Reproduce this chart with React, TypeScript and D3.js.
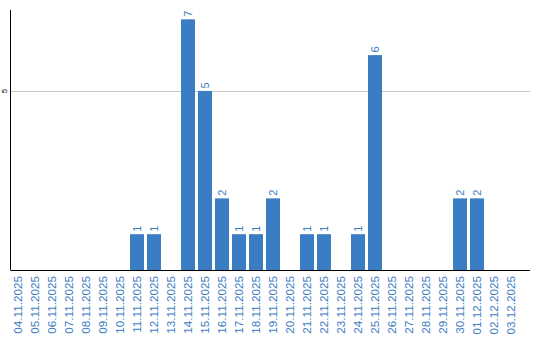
import React from "react";
import * as d3 from "d3";

const dates = [
  "04.11.2025", "05.11.2025", "06.11.2025", "07.11.2025", "08.11.2025",
  "09.11.2025", "10.11.2025", "11.11.2025", "12.11.2025", "13.11.2025",
  "14.11.2025", "15.11.2025", "16.11.2025", "17.11.2025", "18.11.2025",
  "19.11.2025", "20.11.2025", "21.11.2025", "22.11.2025", "23.11.2025",
  "24.11.2025", "25.11.2025", "26.11.2025", "27.11.2025", "28.11.2025",
  "29.11.2025", "30.11.2025", "01.12.2025", "02.12.2025", "03.12.2025",
];
const counts = [0, 0, 0, 0, 0, 0, 0, 1, 1, 0, 7, 5, 2, 1, 1, 2, 0, 1, 1, 0, 1, 6, 0, 0, 0, 0, 2, 2, 0, 0];
const yTicks = [5];

const W = 540;
const H = 340;
const left = 10.5;
const right = 530;
const top = 10;
const bottom = 270;
const blue = "#3b7dc2";
const font = "'Liberation Sans', Arial, sans-serif";

export default function App() {
  const x = d3.scaleBand<string>().domain(dates).range([11, 518]).paddingInner(3 / 17).paddingOuter(0);
  const y = d3.scaleLinear().domain([0, 7.26]).range([bottom, top]);

  return (
    <svg width={W} height={H} style={{ position: "absolute", left: 0, top: 0, display: "block" }}>
      <rect width={W} height={H} fill="#fff" />
      {yTicks.map((t) => (
        <g key={t}>
          <line x1={left} x2={right} y1={Math.round(y(t)) + 0.5} y2={Math.round(y(t)) + 0.5} stroke="#c8c8c8" strokeWidth={1} />
          <text
            transform={`translate(4.5,${y(t)}) rotate(-90)`}
            textAnchor="middle"
            dy="0.35em"
            fontSize={8}
            fontFamily={font}
            fill="#000"
          >
            {t}
          </text>
        </g>
      ))}
      {dates.map((d, i) => {
        const v = counts[i];
        if (!v) return null;
        const bx = x(d)!;
        return (
          <rect key={d} x={bx} y={y(v)} width={x.bandwidth()} height={bottom - y(v)} fill={blue} />
        );
      })}
      {dates.map((d, i) => {
        const v = counts[i];
        if (!v) return null;
        const cx = x(d)! + x.bandwidth() / 2;
        return (
          <text
            key={"v" + d}
            transform={`translate(${cx},${y(v) - 2.5}) rotate(-90)`}
            textAnchor="start"
            dy="0.35em"
            fontSize={11}
            fontFamily={font}
            fill={blue}
          >
            {v}
          </text>
        );
      })}
      <line x1={left} x2={left} y1={top} y2={bottom} stroke="#000" strokeWidth={1} />
      <line x1={left} x2={right} y1={bottom + 0.5} y2={bottom + 0.5} stroke="#000" strokeWidth={1} />
      {dates.map((d) => {
        const cx = x(d)! + x.bandwidth() / 2;
        return (
          <text
            key={"l" + d}
            transform={`translate(${cx},276) rotate(-90)`}
            textAnchor="end"
            dy="0.35em"
            fontSize={11.7}
            fontFamily={font}
            fill={blue}
          >
            {d}
          </text>
        );
      })}
    </svg>
  );
}
